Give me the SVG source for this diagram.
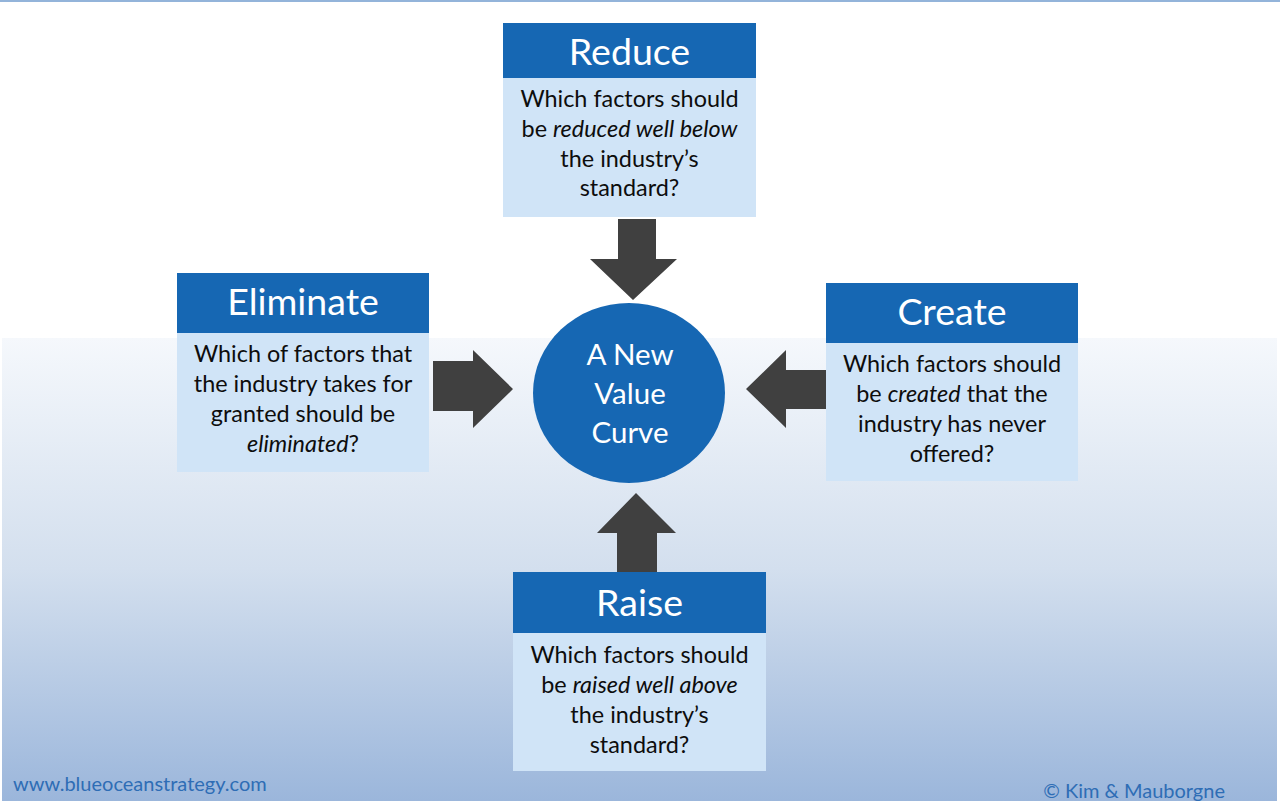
<svg xmlns="http://www.w3.org/2000/svg" width="1280" height="804" viewBox="0 0 1280 804">
<defs>
<linearGradient id="bg" x1="0" y1="0" x2="0" y2="1">
<stop offset="0" stop-color="#F5F8FC"/>
<stop offset="0.5" stop-color="#D3DFEE"/>
<stop offset="1" stop-color="#9BB6DB"/>
</linearGradient>
<style>
.hdr{fill:#1667B3}
.body{fill:#D0E4F7}
.ht{font-family:Lato,"Open Sans",sans-serif;font-size:37.5px;fill:#FFFFFF;text-anchor:middle}
.bt{font-family:Lato,"Open Sans",sans-serif;font-size:23.4px;fill:#0D0D0D;text-anchor:middle}
.ct{font-family:Lato,"Open Sans",sans-serif;font-size:29.5px;fill:#FFFFFF;text-anchor:middle}
.ft{font-family:Lato,"Open Sans",sans-serif;font-size:20px;fill:#2E6DB5}
.arr{fill:#404040}
</style>
</defs>
<rect x="0" y="0" width="1280" height="804" fill="#FFFFFF"/>
<rect x="2" y="338" width="1275" height="463" fill="url(#bg)"/>
<rect x="0" y="0" width="1280" height="2" fill="#93B4DA"/>

<g id="connectors">
<polygon class="arr" points="618,219 656,219 656,259 677,259 633,300 590,259 618,259"/>
<polygon class="arr" points="433,361 473,361 473,350 513,389 473,428 473,411 433,411"/>
<polygon class="arr" points="826,370 786,370 786,350 746,389 786,428 786,409 826,409"/>
<polygon class="arr" points="617,572 617,533 597,533 636,493 676,533 657,533 657,572"/>
</g>

<g id="reduce">
<rect class="hdr" x="503" y="23" width="253" height="55"/>
<rect class="body" x="503" y="78" width="253" height="139"/>
<text class="ht" x="629.5" y="65">Reduce</text>
<text class="bt" x="629.5" y="107">Which factors should</text>
<text class="bt" x="629.5" y="137">be <tspan font-style="italic">reduced well below</tspan></text>
<text class="bt" x="629.5" y="167">the industry’s</text>
<text class="bt" x="629.5" y="196">standard?</text>
</g>

<g id="eliminate">
<rect class="hdr" x="177" y="273" width="252" height="60"/>
<rect class="body" x="177" y="333" width="252" height="139"/>
<text class="ht" x="303" y="315">Eliminate</text>
<text class="bt" x="303" y="362">Which of factors that</text>
<text class="bt" x="303" y="392">the industry takes for</text>
<text class="bt" x="303" y="422">granted should be</text>
<text class="bt" x="303" y="452"><tspan font-style="italic">eliminated</tspan>?</text>
</g>

<g id="create">
<rect class="hdr" x="826" y="283" width="252" height="60"/>
<rect class="body" x="826" y="343" width="252" height="138"/>
<text class="ht" x="952" y="325">Create</text>
<text class="bt" x="952" y="372">Which factors should</text>
<text class="bt" x="952" y="402">be <tspan font-style="italic">created</tspan> that the</text>
<text class="bt" x="952" y="432">industry has never</text>
<text class="bt" x="952" y="462">offered?</text>
</g>

<g id="raise">
<rect class="hdr" x="513" y="572" width="253" height="61"/>
<rect class="body" x="513" y="633" width="253" height="138"/>
<text class="ht" x="639.5" y="616">Raise</text>
<text class="bt" x="639.5" y="663">Which factors should</text>
<text class="bt" x="639.5" y="693">be <tspan font-style="italic">raised well above</tspan></text>
<text class="bt" x="639.5" y="723">the industry’s</text>
<text class="bt" x="639.5" y="753">standard?</text>
</g>

<g id="center">
<ellipse cx="629" cy="393" rx="96" ry="90" fill="#1667B3"/>
<text class="ct" x="630" y="365">A New</text>
<text class="ct" x="630" y="404">Value</text>
<text class="ct" x="630" y="443">Curve</text>
</g>

<g id="footer">
<text class="ft" x="13" y="791">www.blueoceanstrategy.com</text>
<text class="ft" x="1225" y="798" text-anchor="end">© Kim &amp; Mauborgne</text>
</g>
</svg>
